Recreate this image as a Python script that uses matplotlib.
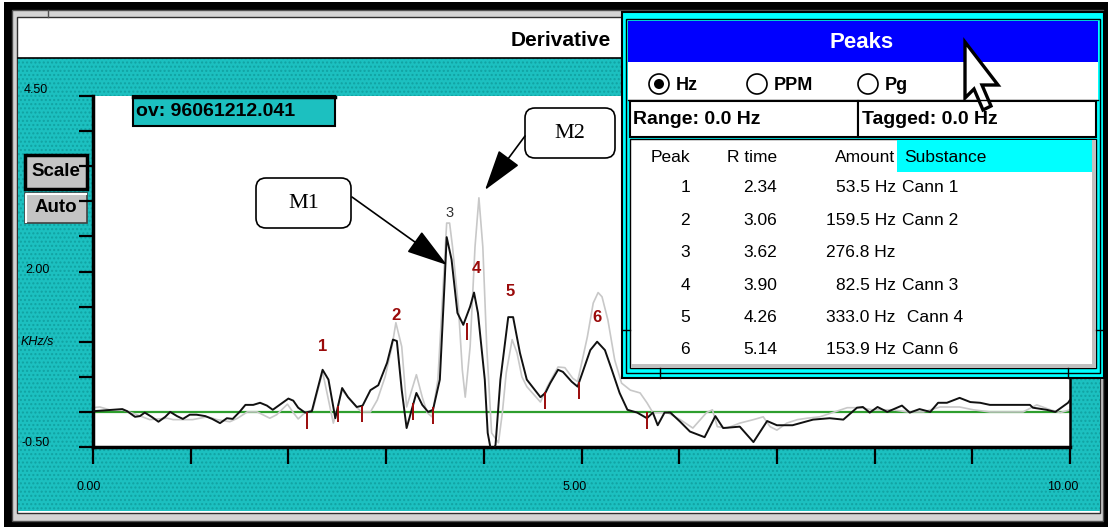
import matplotlib
matplotlib.use('Agg')
import matplotlib.pyplot as plt
from matplotlib.patches import Rectangle, FancyBboxPatch, Circle, Polygon

plt.rcParams['font.family'] = ['Liberation Sans', 'DejaVu Sans']

# derivative trace of the current run (black)
run_x = [0.00, 0.30, 0.35, 0.43, 0.48, 0.53, 0.60, 0.67, 0.74, 0.79, 0.86, 0.92, 0.99, 1.06, 1.15, 1.22,
         1.30, 1.37, 1.43, 1.50, 1.56, 1.64, 1.71, 1.78, 1.84, 1.91, 2.00, 2.05, 2.10, 2.17, 2.24, 2.29,
         2.35, 2.41, 2.48, 2.55, 2.61, 2.70, 2.76, 2.84, 2.92, 3.01, 3.07, 3.11, 3.16, 3.21, 3.27, 3.31,
         3.37, 3.43, 3.48, 3.55, 3.60, 3.62, 3.67, 3.73, 3.79, 3.86, 3.90, 3.94, 4.01, 4.04, 4.08, 4.12,
         4.17, 4.25, 4.30, 4.37, 4.44, 4.58, 4.63, 4.68, 4.76, 4.81, 4.90, 4.96, 5.02, 5.09, 5.16, 5.24,
         5.31, 5.39, 5.47, 5.57, 5.67, 5.73, 5.78, 5.85, 5.91, 6.01, 6.11, 6.26, 6.37, 6.45, 6.62, 6.76,
         6.90, 7.00, 7.16, 7.37, 7.54, 7.68, 7.82, 7.88, 7.95, 8.03, 8.13, 8.28, 8.36, 8.46, 8.57, 8.65,
         8.74, 8.87, 8.98, 9.08, 9.18, 9.39, 9.59, 9.62, 9.76, 9.85, 9.98, 10.00]
run_y = [0.01, 0.04, 0.01, -0.07, -0.06, -0.01, -0.07, -0.14, -0.07, 0.00, -0.06, -0.10, -0.04, -0.04, -0.06, -0.10,
         -0.16, -0.09, -0.10, 0.00, 0.10, 0.10, 0.13, 0.09, 0.03, 0.10, 0.19, 0.16, 0.06, -0.01, 0.01, 0.28,
         0.60, 0.46, -0.09, 0.34, 0.21, 0.07, 0.09, 0.31, 0.38, 0.70, 1.03, 1.01, 0.31, -0.23, 0.07, 0.27,
         0.10, 0.00, 0.03, 0.46, 1.88, 2.49, 2.17, 1.41, 1.24, 1.50, 1.70, 1.41, 0.46, -0.30, -0.60, -0.47,
         0.46, 1.35, 1.35, 0.84, 0.46, 0.21, 0.27, 0.41, 0.60, 0.57, 0.43, 0.36, 0.60, 0.88, 1.00, 0.88,
         0.60, 0.27, 0.03, -0.01, -0.09, -0.01, -0.19, -0.01, -0.01, -0.14, -0.28, -0.36, -0.06, -0.23, -0.21, -0.43,
         -0.13, -0.19, -0.19, -0.11, -0.09, -0.11, 0.06, 0.07, -0.01, 0.07, 0.00, 0.09, -0.01, 0.04, 0.00, 0.13,
         0.13, 0.20, 0.14, 0.13, 0.10, 0.10, 0.10, 0.06, 0.03, 0.00, 0.13, 0.17]

# reference trace (light grey)
ref_x = [0.00, 0.07, 0.17, 0.30, 0.43, 0.58, 0.76, 0.82, 1.02, 1.17, 1.27, 1.40, 1.48, 1.58, 1.68, 1.81,
         1.88, 1.99, 2.05, 2.10, 2.17, 2.25, 2.35, 2.46, 2.55, 2.70, 2.75, 2.84, 2.91, 2.99, 3.06, 3.10,
         3.16, 3.21, 3.31, 3.37, 3.42, 3.47, 3.53, 3.62, 3.65, 3.68, 3.74, 3.78, 3.81, 3.86, 3.91, 3.95,
         3.99, 4.03, 4.08, 4.15, 4.19, 4.23, 4.29, 4.34, 4.39, 4.44, 4.58, 4.65, 4.76, 4.83, 4.91, 4.96,
         5.06, 5.12, 5.17, 5.21, 5.27, 5.34, 5.41, 5.50, 5.60, 5.67, 5.73, 5.88, 6.01, 6.14, 6.28, 6.34,
         6.39, 6.49, 6.62, 6.76, 6.86, 6.93, 7.00, 7.10, 7.21, 7.31, 7.44, 7.57, 7.72, 7.85, 7.98, 8.19,
         8.33, 8.50, 8.67, 8.87, 9.01, 9.18, 9.52, 9.66, 9.80, 9.90, 10.00]
ref_y = [0.06, 0.07, 0.03, 0.03, -0.03, -0.11, -0.09, -0.11, -0.11, -0.07, -0.11, -0.14, -0.09, 0.00, 0.00, -0.09,
         -0.04, 0.11, -0.01, -0.10, -0.01, 0.03, 0.57, -0.16, 0.31, 0.06, 0.00, 0.00, 0.17, 0.50, 0.93, 1.27,
         0.93, 0.07, 0.53, 0.21, -0.01, -0.07, 0.46, 2.69, 2.69, 2.35, 1.50, 0.60, 0.21, 0.93, 2.35, 3.05,
         2.35, 0.93, -0.30, -0.44, -0.01, 0.56, 1.03, 0.84, 0.50, 0.36, 0.14, 0.36, 0.64, 0.63, 0.48, 0.43,
         1.07, 1.55, 1.70, 1.64, 1.31, 0.74, 0.41, 0.31, 0.27, 0.13, -0.01, -0.01, -0.11, -0.23, -0.01, 0.03,
         -0.21, -0.23, -0.16, -0.11, -0.07, -0.21, -0.26, -0.16, -0.11, -0.09, -0.07, -0.01, 0.06, 0.06, 0.03, 0.03,
         0.00, 0.00, 0.07, 0.07, 0.03, 0.00, 0.00, 0.10, 0.03, -0.01, 0.03]

# peak labels on the trace
label_txt = ['1', '2', '3', '4', '5', '6']
label_x = [2.35, 3.10, 3.65, 3.92, 4.27, 5.16]
label_y = [0.93, 1.37, 2.83, 2.04, 1.71, 1.34]
# red integration marks
mark_x = [2.19, 2.51, 2.75, 3.28, 3.48, 3.83, 4.63, 4.97, 5.67]
mark_top = [0.00, 0.09, 0.09, 0.13, 0.07, 1.27, 0.28, 0.43, 0.00]
mark_len = 0.24

# peaks table
peak_no = ['1', '2', '3', '4', '5', '6']
peak_rt = ['2.34', '3.06', '3.62', '3.90', '4.26', '5.14']
peak_amt = ['53.5 Hz', '159.5 Hz', '276.8 Hz', '82.5 Hz', '333.0 Hz', '153.9 Hz']
peak_sub = ['Cann 1', 'Cann 2', '', 'Cann 3', ' Cann 4', 'Cann 6']

W, H = 1109, 527
CYAN = '#1cc0c0'
RED = '#9a0a0a'

fig = plt.figure(figsize=(W / 100, H / 100), dpi=100)

bg = fig.add_axes([0, 0, 1, 1], zorder=0)
bg.set_xlim(0, W)
bg.set_ylim(H, 0)
bg.axis('off')


def box(a, x0, y0, x1, y1, fc='none', ec='none', lw=1.0, **kw):
    a.add_patch(Rectangle((x0, y0), x1 - x0, y1 - y0, facecolor=fc, edgecolor=ec, linewidth=lw, **kw))


# window frame
box(bg, 4, 2, 1108, 527, fc='black')
box(bg, 12, 10, 1103, 521, fc='#d4d4d4', ec='#505050', lw=1)
box(bg, 17, 17, 1100, 513, fc='white', ec='#303030', lw=1)
box(bg, 18, 58, 1100, 511, fc=CYAN, ec='#11a2a2', lw=0, hatch='....')
bg.plot([18, 1100], [57.5, 57.5], color='black', lw=1.2)
bg.plot([48, 48], [10, 17], color='#505050', lw=1)
bg.text(561, 40, 'Derivative', fontsize=15, fontweight='bold', ha='center', va='center')

# Scale / Auto buttons
box(bg, 25, 155, 87, 189, fc='#c4c4c4', ec='black', lw=2.5)
bg.text(56, 172, 'Scale', fontsize=13.5, fontweight='bold', ha='center', va='center')
box(bg, 25, 193, 87, 223, fc='#c4c4c4', ec='#404040', lw=1.2)
bg.plot([26, 26, 86], [222, 194, 194], color='white', lw=1.5)
bg.text(56, 208, 'Auto', fontsize=13.5, fontweight='bold', ha='center', va='center')

# plot area
ax = fig.add_axes([93 / W, 1 - 447 / H, 977 / W, 351 / H], zorder=1)
ax.set_xlim(0, 10)
ax.set_ylim(-0.5, 4.5)
ax.set_facecolor('white')
ax.axhline(0, color='#2e9e2e', lw=1.6, zorder=1)
ax.plot(ref_x, ref_y, color='#c8c8c8', lw=1.2, zorder=2)
ax.plot(run_x, run_y, color='#111111', lw=1.4, zorder=3)
ax.vlines(mark_x, [t - mark_len for t in mark_top], mark_top, color=RED, lw=1.4, zorder=4)
for t, x, y in zip(label_txt, label_x, label_y):
    if t == '3':
        ax.text(x, y, t, color='#303030', fontsize=10.5, ha='center', va='center', zorder=5)
    else:
        ax.text(x, y, t, color=RED, fontsize=12, fontweight='bold', ha='center', va='center', zorder=5)

ax.spines['top'].set_visible(False)
ax.spines['left'].set_linewidth(2.5)
ax.spines['bottom'].set_linewidth(2.5)
ax.spines['right'].set_linewidth(1.8)
ax.set_xticks([i for i in range(11)])
ax.set_yticks([-0.5 + 0.5 * i for i in range(11)])
ax.tick_params(axis='x', direction='out', length=12, width=1.6, labelbottom=False)
ax.tick_params(axis='y', direction='out', length=10, width=1.6, labelleft=False)
for x, y, s in [(-0.59, 4.59, '4.50'), (-0.57, 2.02, '2.00'), (-0.57, 1.00, 'KHz/s'), (-0.59, -0.44, '-0.50'),
                (-0.04, -1.07, '0.00'), (4.93, -1.07, '5.00'), (9.93, -1.07, '10.00')]:
    ax.text(x, y, s, fontsize=9, ha='center', va='center', clip_on=False,
            style='italic' if s == 'KHz/s' else 'normal')

# overlay: sample box, callouts, peaks window, cursor
fg = fig.add_axes([0, 0, 1, 1], zorder=2)
fg.set_xlim(0, W)
fg.set_ylim(H, 0)
fg.axis('off')

box(fg, 133, 96, 335, 126, fc=CYAN, ec='black', lw=1.5)
fg.plot([133, 335], [96.5, 96.5], color='black', lw=2.5)
fg.text(136, 112, 'ov: 96061212.041', fontsize=14, fontweight='bold', ha='left', va='center')

for (x0, y0, x1, y1, s) in [(256, 178, 351, 228, 'M1'), (525, 108, 615, 158, 'M2')]:
    fg.add_patch(FancyBboxPatch((x0, y0), x1 - x0, y1 - y0, boxstyle='round,pad=0,rounding_size=10',
                                facecolor='white', edgecolor='black', lw=1.2))
    fg.text((x0 + x1) / 2, (y0 + y1) / 2 + 1, s, fontsize=16, family='Liberation Serif',
            ha='center', va='center')
arrow = dict(arrowstyle='-|>,head_length=1.3,head_width=0.4', color='black', lw=1.2,
             mutation_scale=20, shrinkA=0, shrinkB=0)
fg.annotate('', xy=(447, 265), xytext=(352, 197), arrowprops=arrow)
fg.annotate('', xy=(485, 190), xytext=(525, 136), arrowprops=arrow)

# Peaks window
box(fg, 622, 12, 1104, 378, fc='#00ffff', ec='black', lw=1.5)
box(fg, 626, 19, 1100, 373, ec='black', lw=1)
box(fg, 628, 21, 1098, 62, fc='#0000ff')
fg.text(862, 42, 'Peaks', color='white', fontsize=16, fontweight='bold', ha='center', va='center')
box(fg, 628, 62, 1098, 100, fc='white')
fg.plot([628, 1098], [100, 100], color='black', lw=1)
for cx, s, sel in [(659, 'Hz', True), (757, 'PPM', False), (868, 'Pg', False)]:
    fg.add_patch(Circle((cx, 84), 10, facecolor='white', edgecolor='black', lw=1.2))
    if sel:
        fg.add_patch(Circle((cx, 84), 5, facecolor='black'))
    fg.text(cx + 17, 85, s, fontsize=13, fontweight='bold', ha='left', va='center')
box(fg, 630, 101, 858, 137, fc='white', ec='black', lw=1.5)
box(fg, 858, 101, 1096, 137, fc='white', ec='black', lw=1.5)
fg.text(633, 119, 'Range: 0.0 Hz', fontsize=14, fontweight='bold', ha='left', va='center')
fg.text(862, 119, 'Tagged: 0.0 Hz', fontsize=14, fontweight='bold', ha='left', va='center')
box(fg, 630, 139, 1096, 368, fc='white', ec='black', lw=1)
box(fg, 1092, 140, 1096, 368, fc='#c0c0c0')
box(fg, 631, 364, 1096, 368, fc='#c0c0c0')
box(fg, 897, 140, 1092, 172, fc='#00ffff')
for x0, y0, x1, y1 in [(660, 368, 660, 378), (1068, 368, 1068, 378), (622, 330, 630, 330), (1096, 330, 1104, 330)]:
    fg.plot([x0, x1], [y0, y1], color='black', lw=1)

fs = 12.5
fg.text(670, 157, 'Peak', fontsize=fs, ha='center', va='center')
fg.text(752, 157, 'R time', fontsize=fs, ha='center', va='center')
fg.text(895, 157, 'Amount', fontsize=fs, ha='right', va='center')
fg.text(904, 157, 'Substance', fontsize=fs, ha='left', va='center')
for i in range(len(peak_no)):
    y = 188 + 32.4 * i
    fg.text(685, y, peak_no[i], fontsize=fs, ha='center', va='center')
    fg.text(777, y, peak_rt[i], fontsize=fs, ha='right', va='center')
    fg.text(896, y, peak_amt[i], fontsize=fs, ha='right', va='center')
    fg.text(902, y, peak_sub[i], fontsize=fs, ha='left', va='center')

# mouse pointer
fg.add_patch(Polygon([(965, 42), (965, 98), (974, 89), (983, 110), (991, 106), (982, 85), (998, 85)],
                     closed=True, facecolor='white', edgecolor='black', lw=2.4, joinstyle='miter'))

fig.savefig('out.png', dpi=100)
